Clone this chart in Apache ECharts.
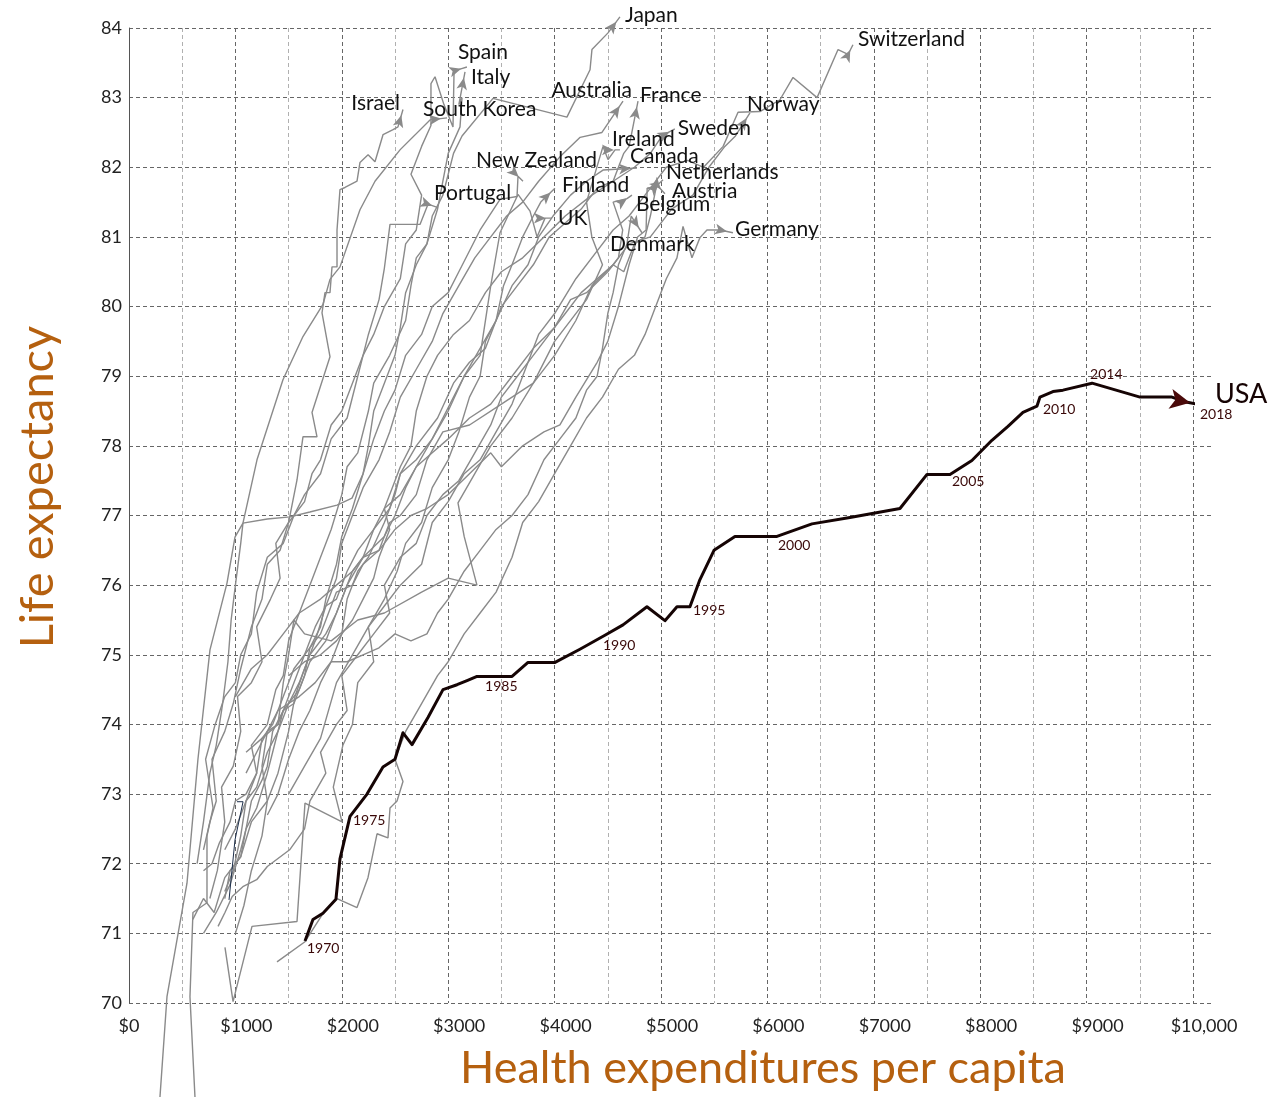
<!DOCTYPE html>
<html>
<head>
<meta charset="utf-8">
<script src="https://cdn.jsdelivr.net/npm/echarts@6/dist/echarts.min.js"></script>
<style>
  html, body { margin: 0; padding: 0; background: #fff; }
  #chart { width: 1270px; height: 1097px; }
</style>
</head>
<body>
<div id="chart"></div>
<script>
// health expenditure per capita ($) vs life expectancy (years), 1970 -> 2018
const japan = [[640,72.0],[700,72.6],[760,73.3],[820,73.7],[880,74.3],[930,74.9],[960,75.5],[1000,76.0],[1050,76.6],[1071,76.89],[1300,76.95],[1513,76.98],[1700,77.05],[1955,77.15],[2096,77.25],[2200,77.6],[2250,78.0],[2300,78.5],[2400,78.9],[2500,79.3],[2550,79.7],[2600,80.2],[2700,80.6],[2800,80.9],[2850,81.3],[2950,81.6],[3000,81.9],[3050,82.2],[3130,82.45],[3421,82.99],[4116,82.72],[4333,83.4],[4351,83.69],[4502,83.93],[4614,84.16]];
const switzerland = [[1500,73.0],[1650,73.4],[1800,73.8],[1950,74.6],[2100,75.0],[2250,75.4],[2400,75.7],[2550,76.0],[2750,76.3],[2850,76.9],[3000,77.2],[3150,77.6],[3300,77.8],[3450,78.2],[3600,78.6],[3700,79.0],[3850,79.6],[4000,79.9],[4200,80.4],[4400,80.8],[4550,81.1],[4700,81.3],[4900,81.7],[5050,82.0],[5250,82.1],[5400,82.0],[5584,82.3],[5724,82.79],[5930,82.8],[6118,82.97],[6241,83.29],[6467,83.0],[6664,83.69],[6758,83.62],[6804,83.76]];
const spain = [[700,72.2],[760,72.6],[820,72.9],[780,73.5],[900,73.9],[980,74.3],[1050,74.8],[1150,75.4],[1250,75.8],[1300,76.3],[1420,76.5],[1500,76.9],[1550,77.0],[1650,77.2],[1720,77.6],[1800,77.8],[1900,78.3],[2000,78.5],[2100,78.9],[2200,79.3],[2300,79.6],[2400,80.0],[2550,80.4],[2600,80.9],[2700,81.1],[2750,81.6],[2650,81.9],[2750,82.3],[2838,82.6],[2838,83.2],[2876,83.3],[2960,82.9],[3045,82.58],[3055,83.38],[3111,83.41],[3176,83.44]];
const italy = [[900,71.6],[980,71.9],[1050,72.4],[1100,72.9],[1200,73.3],[1150,73.7],[1300,74.0],[1380,74.5],[1450,74.7],[1500,75.2],[1600,75.6],[1700,76.0],[1800,76.4],[1900,76.8],[2000,77.3],[2050,77.7],[2150,77.9],[2250,78.5],[2300,78.9],[2450,79.3],[2600,79.8],[2650,80.3],[2700,80.7],[2800,80.9],[2900,81.4],[2950,81.8],[3000,82.2],[3111,82.58],[3130,83.0],[3100,82.9],[3158,83.37]];
const israel = [[760,71.5],[830,71.9],[900,72.6],[870,73.1],[980,73.4],[1050,73.9],[1020,74.4],[1150,74.6],[1250,74.9],[1200,75.4],[1330,75.8],[1420,76.1],[1380,76.6],[1500,76.9],[1579,77.51],[1635,78.13],[1767,78.13],[1720,78.48],[1889,79.28],[1814,79.91],[1842,80.2],[1889,80.2],[1908,80.57],[1955,80.57],[1955,81.1],[1983,81.68],[2030,81.71],[2143,81.8],[2171,82.07],[2247,82.18],[2312,82.08],[2388,82.47],[2482,82.54],[2528,82.58],[2575,82.83]];
const southKorea = [[215,67.0],[291,68.65],[357,70.09],[545,71.72],[648,73.5],[761,75.07],[921,76.03],[996,76.69],[1071,76.89],[1203,77.8],[1447,78.95],[1635,79.57],[1823,80.03],[1889,80.39],[1983,80.57],[2171,81.39],[2312,81.8],[2547,82.25],[2829,82.68],[2989,82.71]];
const australia = [[1000,71.0],[1080,71.4],[1150,71.9],[1250,72.4],[1300,72.9],[1400,73.3],[1500,73.9],[1560,74.4],[1650,74.8],[1750,75.2],[1850,75.7],[1950,76.1],[2000,76.6],[2100,77.0],[2200,77.4],[2350,77.8],[2450,78.2],[2550,78.7],[2700,79.1],[2850,79.5],[2950,79.9],[3100,80.3],[3250,80.7],[3400,81.0],[3550,81.3],[3700,81.5],[3850,81.8],[4050,82.15],[4240,82.43],[4445,82.5],[4643,82.95]];
const france = [[900,72.2],[1000,72.5],[1100,72.9],[1200,73.1],[1300,73.6],[1400,73.9],[1500,74.3],[1600,74.6],[1700,75.0],[1850,75.3],[1950,75.6],[2050,76.0],[2200,76.4],[2300,76.8],[2450,77.1],[2550,77.6],[2700,78.0],[2900,78.4],[3050,78.9],[3200,79.2],[3350,79.4],[3500,80.0],[3650,80.3],[3800,80.6],[3950,81.0],[4100,81.2],[4250,81.4],[4400,81.7],[4550,81.8],[4650,82.2],[4700,82.3],[4784,82.95]];
const norway = [[1000,74.4],[1150,74.8],[1300,75.0],[1450,75.3],[1600,75.6],[1800,75.8],[1950,76.0],[2100,76.2],[2200,76.4],[2350,76.5],[2450,76.9],[2550,77.0],[2700,77.3],[2800,77.8],[2950,78.2],[3200,78.3],[3500,78.6],[3800,78.9],[4000,79.3],[4200,79.8],[4350,80.3],[4550,80.6],[4700,80.9],[4900,81.0],[5100,81.4],[5300,81.6],[5450,82.0],[5600,82.3],[5700,82.45],[5836,82.78]];
const sweden = [[1500,74.7],[1650,74.9],[1800,75.0],[1950,75.2],[2100,75.5],[2200,75.8],[2300,76.1],[2350,76.4],[2450,76.8],[2400,77.1],[2500,77.5],[2550,77.7],[2650,78.0],[2700,78.5],[2800,79.0],[2900,79.3],[3050,79.6],[3200,79.8],[3350,80.2],[3500,80.5],[3700,80.7],[3900,81.0],[4100,81.3],[4350,81.6],[4550,81.8],[4750,82.0],[4900,82.2],[5010,82.45],[5130,82.55]];
const ireland = [[600,71.2],[700,71.5],[800,71.3],[900,71.8],[1050,72.1],[1150,72.6],[1300,72.9],[1250,73.4],[1300,73.9],[1400,74.0],[1450,74.6],[1500,75.0],[1550,75.5],[1650,75.3],[1900,75.2],[2150,75.5],[2400,75.6],[2750,75.9],[3000,76.1],[3270,76.0],[3150,76.7],[3092,77.18],[3250,77.6],[3400,78.0],[3600,78.4],[3800,78.9],[4000,79.5],[4300,80.1],[4450,80.6],[4350,81.0],[4300,81.5],[4455,82.3],[4502,82.11],[4568,82.25],[4614,82.25]];
const canada = [[1300,72.7],[1400,73.0],[1500,73.5],[1600,73.9],[1700,74.2],[1800,74.6],[1900,74.9],[2000,75.3],[2050,75.8],[2150,76.2],[2250,76.4],[2400,76.9],[2500,77.3],[2550,77.6],[2700,77.8],[2850,78.1],[2950,78.4],[3050,78.7],[3150,79.0],[3300,79.4],[3450,79.8],[3600,80.3],[3750,80.6],[3850,81.0],[3985,81.3],[4150,81.6],[4300,81.8],[4455,81.96],[4774,81.99]];
const newZealand = [[900,71.5],[950,71.9],[1050,72.1],[1100,72.5],[1150,72.9],[1250,73.2],[1300,73.4],[1350,73.9],[1450,74.2],[1550,74.3],[1650,74.7],[1700,75.1],[1800,75.4],[1850,75.8],[1950,76.3],[2000,76.7],[2100,77.1],[2200,77.6],[2300,78.1],[2400,78.5],[2500,78.8],[2600,79.3],[2750,79.6],[2850,80.0],[3000,80.2],[3100,80.5],[3300,81.1],[3487,81.54],[3647,81.58],[3656,81.87],[3703,81.8]];
const netherlands = [[1100,73.6],[1250,73.8],[1400,74.0],[1550,74.6],[1650,75.0],[1800,75.3],[1950,75.9],[2100,76.0],[2200,76.3],[2350,76.5],[2500,76.8],[2650,77.0],[2800,77.1],[3000,77.3],[3200,77.6],[3400,77.9],[3500,77.7],[3700,78.0],[3900,78.2],[4050,78.3],[4200,78.7],[4400,79.2],[4500,79.5],[4600,80.0],[4700,80.6],[4780,81.0],[4860,81.1],[4870,81.7],[4950,81.72],[5019,81.82]];
const finland = [[902,70.8],[978,70.02],[1156,71.1],[1579,71.17],[1654,72.87],[2002,72.6],[1920,73.1],[2010,73.7],[2100,74.0],[2150,74.6],[2300,74.9],[2250,75.4],[2400,75.8],[2520,76.2],[2600,76.6],[2750,76.9],[2850,77.4],[3000,77.8],[3100,78.2],[3200,78.7],[3300,79.0],[3350,79.5],[3450,79.8],[3520,80.3],[3600,80.6],[3700,81.0],[3800,81.3],[3870,81.5],[4003,81.7]];
const austria = [[837,71.1],[902,71.3],[970,71.53],[1070,71.67],[1200,71.77],[1300,71.96],[1510,72.2],[1650,72.5],[1700,72.9],[1850,73.3],[1800,73.6],[1950,74.0],[2050,74.2],[2000,74.7],[2150,75.0],[2300,75.3],[2450,75.6],[2400,76.0],[2550,76.4],[2700,76.6],[2800,77.0],[2950,77.3],[3100,77.5],[3250,77.9],[3400,78.3],[3500,78.7],[3650,79.0],[3800,79.3],[3950,79.6],[4100,79.9],[4250,80.2],[4400,80.4],[4550,80.6],[4650,80.5],[4750,80.9],[4850,81.0],[4900,81.3],[4960,81.75],[5037,81.62]];
const belgium = [[700,71.0],[820,71.3],[950,71.7],[1050,72.2],[1100,72.5],[1200,72.8],[1300,73.3],[1350,73.6],[1450,74.2],[1600,74.5],[1700,74.9],[1850,75.2],[2000,75.8],[2100,76.2],[2200,76.4],[2400,76.7],[2500,77.0],[2600,77.4],[2700,77.7],[2850,77.9],[3000,78.1],[3200,78.4],[3400,78.6],[3600,79.0],[3800,79.4],[4000,79.7],[4150,80.1],[4300,80.2],[4500,80.5],[4600,80.7],[4640,81.1],[4550,81.5],[4680,81.55],[4727,81.6]];
const portugal = [[640,67.2],[620,68.65],[573,70.09],[601,71.3],[733,71.44],[733,72.4],[790,72.8],[720,73.5],[810,74.0],[900,74.4],[1000,74.6],[1050,75.0],[1150,75.3],[1200,75.9],[1300,76.4],[1450,76.6],[1550,77.0],[1650,77.3],[1800,77.6],[1900,78.1],[2050,78.4],[2150,79.0],[2250,79.6],[2350,80.1],[2400,80.55],[2453,81.18],[2735,81.18],[2810,81.47],[2904,81.42]];
const uk = [[700,71.9],[780,72.0],[850,72.3],[950,72.6],[1000,72.9],[1100,73.0],[1200,73.3],[1250,73.8],[1350,74.0],[1450,74.4],[1550,74.8],[1650,75.0],[1750,75.4],[1850,75.7],[1950,75.8],[2050,76.2],[2150,76.5],[2300,76.8],[2400,77.1],[2550,77.3],[2700,77.7],[2850,78.1],[3000,78.5],[3150,79.0],[3300,79.3],[3400,80.3],[3487,81.06],[3656,81.61],[3769,81.37],[3835,81.0],[3910,81.27],[3975,81.27]];
const germany = [[1391,70.59],[1654,70.88],[1830,71.3],[1955,71.5],[2143,71.37],[2246,71.8],[2331,72.43],[2434,72.37],[2453,72.8],[2519,72.9],[2575,73.18],[2500,73.5],[2600,73.9],[2750,74.3],[2900,74.7],[3000,74.9],[3150,75.3],[3300,75.6],[3450,75.9],[3600,76.4],[3700,76.9],[3850,77.2],[4000,77.6],[4150,78.0],[4300,78.4],[4450,78.7],[4600,79.1],[4750,79.3],[4850,79.6],[4950,80.0],[5050,80.4],[5150,80.7],[5207,81.15],[5291,80.7],[5366,80.99],[5432,81.1],[5554,81.1],[5676,81.06]];
const denmark = [[1100,73.3],[1200,73.6],[1300,73.9],[1400,74.2],[1500,74.3],[1600,74.4],[1750,74.6],[1900,74.9],[2050,74.9],[2200,75.0],[2350,75.1],[2500,75.3],[2650,75.2],[2800,75.3],[2900,75.6],[3000,75.8],[3150,76.2],[3300,76.5],[3450,76.8],[3600,77.0],[3750,77.3],[3900,77.8],[4050,78.1],[4200,78.4],[4300,78.8],[4400,79.0],[4450,79.4],[4500,79.9],[4550,80.2],[4600,80.6],[4680,80.9],[4720,81.3],[4821,81.06]];
const stray = [[940,71.48],[996,72.34],[1072,72.89],[1015,72.89]];

// USA, one point per year from 1970
const usa = [[1654,70.89],[1729,71.2],[1823,71.29],[1945,71.49],[1983,72.07],[2077,72.68],[2237,73.0],[2387,73.39],[2500,73.5],[2575,73.88],[2660,73.71],[2810,74.1],[2951,74.5],[3083,74.57],[3177,74.63],[3271,74.69],[3600,74.69],[3750,74.89],[4004,74.89],[4238,75.08],[4473,75.28],[4643,75.43],[4868,75.69],[5037,75.49],[5150,75.69],[5272,75.69],[5366,76.08],[5498,76.5],[5695,76.7],[5893,76.7],[6090,76.7],[6419,76.88],[6776,76.97],[7246,77.1],[7500,77.59],[7716,77.59],[7922,77.79],[8110,78.08],[8261,78.28],[8402,78.48],[8533,78.57],[8562,78.7],[8684,78.78],[8778,78.8],[9051,78.9],[9502,78.7],[9802,78.7],[9934,78.63],[10065,78.59]];
const firstYear = 1970;
const labelledYears = [1970, 1975, 1985, 1990, 1995, 2000, 2005, 2010, 2014, 2018];

const countries = [
  {name: 'Japan', data: japan}, {name: 'Switzerland', data: switzerland},
  {name: 'Spain', data: spain}, {name: 'Italy', data: italy},
  {name: 'Israel', data: israel}, {name: 'South Korea', data: southKorea},
  {name: 'Australia', data: australia}, {name: 'France', data: france},
  {name: 'Norway', data: norway}, {name: 'Sweden', data: sweden},
  {name: 'Ireland', data: ireland}, {name: 'Canada', data: canada},
  {name: 'New Zealand', data: newZealand}, {name: 'Netherlands', data: netherlands},
  {name: 'Finland', data: finland}, {name: 'Austria', data: austria},
  {name: 'Belgium', data: belgium}, {name: 'Portugal', data: portugal},
  {name: 'UK', data: uk}, {name: 'Germany', data: germany},
  {name: 'Denmark', data: denmark}
];

// where each name sits relative to its arrow tip: [dx, dy, align]
const namePlace = {
  'Japan': [5, -2, 'left'], 'Switzerland': [5, -5, 'left'], 'Spain': [-9, -15, 'left'],
  'Italy': [6, 5, 'left'], 'Israel': [-3, -6, 'right'], 'South Korea': [-24, -9, 'left'],
  'Australia': [9, -11, 'right'], 'France': [2, -6, 'left'], 'Norway': [-3, -9, 'left'],
  'Sweden': [3, -1, 'left'], 'Ireland': [-8, -11, 'left'], 'Canada': [-7, -12, 'left'],
  'New Zealand': [-47, -21, 'left'], 'Netherlands': [3, -8, 'left'], 'Finland': [7, -3, 'left'],
  'Austria': [7, -3, 'left'], 'Belgium': [4, 9, 'left'], 'Portugal': [-4, -14, 'left'],
  'UK': [6, 0, 'left'], 'Germany': [2, -4, 'left'], 'Denmark': [-32, 11, 'left']
};
const yearPlace = {
  1970: [2, 7], 1975: [3, 4], 1985: [8, 10], 1990: [-2, 10], 1995: [3, 4],
  2000: [1, 9], 2005: [2, 7], 2010: [6, 3], 2014: [-2, -9], 2018: [0, 10]
};

const FONT = 'Lato, "Open Sans", sans-serif';
const GREY = '#8a8a8a';
const dash = [4, 3];

const chart = echarts.init(document.getElementById('chart'));

const lineSeries = countries.map(c => ({
  type: 'line', name: c.name, data: c.data, symbol: 'none', clip: false, silent: true,
  lineStyle: {color: GREY, width: 1.4}, z: 3
}));
lineSeries.push({
  type: 'line', name: 'stray', data: stray, symbol: 'none', clip: false, silent: true,
  lineStyle: {color: '#1c2e4a', width: 1}, z: 3
});
lineSeries.push({
  type: 'line', name: 'USA', data: usa, symbol: 'none', clip: false, silent: true,
  lineStyle: {color: '#150404', width: 3, join: 'round'}, z: 5
});

const option = {
  animation: false,
  backgroundColor: '#fff',
  grid: [
    {left: 129, top: 28, width: 1064, height: 975},
    {left: 129, top: 28, width: 1084, height: 975}
  ],
  xAxis: [
    {
      gridIndex: 0, type: 'value', min: 0, max: 10000, interval: 1000,
      axisLine: {show: false}, axisTick: {show: false},
      axisLabel: {
        margin: 14, color: '#222', fontSize: 18, fontFamily: FONT,
        formatter: v => v === 0 ? '{z|$0}' : '{n|$' + (v === 10000 ? '10,000' : v) + '}',
        rich: {
          z: {fontSize: 18, fontFamily: FONT, color: '#222'},
          n: {fontSize: 18, fontFamily: FONT, color: '#222', padding: [0, 0, 0, 22]}
        }
      },
      splitLine: {show: true, lineStyle: {color: '#666', type: dash, width: 1}},
      minorTick: {show: false, splitNumber: 2},
      minorSplitLine: {show: true, lineStyle: {color: '#b0b0b0', type: dash, width: 1}}
    },
    {gridIndex: 1, type: 'value', min: 0, max: 1, show: false}
  ],
  yAxis: [
    {gridIndex: 0, type: 'value', min: 70, max: 84, show: false},
    {
      gridIndex: 1, type: 'value', min: 70, max: 84, interval: 1,
      axisLine: {show: true, lineStyle: {color: '#555', width: 1}},
      axisTick: {show: false},
      axisLabel: {margin: 7, color: '#222', fontSize: 18, fontFamily: FONT},
      splitLine: {show: true, lineStyle: {color: '#666', type: dash, width: 1}}
    }
  ],
  graphic: [
    {
      type: 'text', x: 38, y: 487, rotation: Math.PI / 2,
      style: {text: 'Life expectancy', fill: '#b5600f', font: '47px ' + FONT, align: 'center', verticalAlign: 'middle'}
    },
    {
      type: 'text', x: 763, y: 1068,
      style: {text: 'Health expenditures per capita', fill: '#b5600f', font: '45px ' + FONT, align: 'center', verticalAlign: 'middle'}
    }
  ],
  series: lineSeries
};

chart.setOption(option);

// arrowheads: point the symbol along the last segment and put its tip on the last point
function arrowAt(pts, size) {
  const a = chart.convertToPixel({gridIndex: 0}, pts[pts.length - 2]);
  const b = chart.convertToPixel({gridIndex: 0}, pts[pts.length - 1]);
  const dx = b[0] - a[0], dy = b[1] - a[1];
  const len = Math.hypot(dx, dy) || 1;
  return {
    value: pts[pts.length - 1],
    symbolRotate: Math.atan2(-dx, -dy) * 180 / Math.PI,
    symbolOffset: [-dx / len * size[1] / 2, -dy / len * size[1] / 2]
  };
}

const arrowSize = [8, 12];
const usaArrowSize = [15, 20];
const hidden = {color: 'rgba(0,0,0,0)', opacity: 1};

const extra = [
  {
    type: 'scatter', name: 'arrows', symbol: 'arrow', symbolSize: arrowSize, silent: true, clip: false,
    itemStyle: {color: GREY, opacity: 1}, z: 4,
    data: countries.map(c => arrowAt(c.data, arrowSize))
  },
  {
    type: 'scatter', name: 'usaArrow', symbol: 'arrow', symbolSize: usaArrowSize, silent: true, clip: false,
    itemStyle: {color: '#4a0a0a', opacity: 1}, z: 6,
    data: [arrowAt(usa, usaArrowSize)]
  },
  {
    type: 'scatter', name: 'names', symbolSize: 1, silent: true, clip: false,
    itemStyle: hidden, z: 7,
    data: countries.map(c => {
      const p = namePlace[c.name];
      return {
        value: c.data[c.data.length - 1],
        label: {
          show: true, formatter: c.name, position: [p[0] + 0.5, p[1] + 0.5],
          align: p[2], verticalAlign: 'middle',
          color: '#111', fontSize: 21, fontFamily: FONT
        }
      };
    }).concat([{
      value: usa[usa.length - 1],
      label: {
        show: true, formatter: 'USA', position: [15.5, -9.5], align: 'left', verticalAlign: 'middle',
        color: '#160303', fontSize: 27, fontFamily: FONT
      }
    }])
  },
  {
    type: 'scatter', name: 'years', symbolSize: 1, silent: true, clip: false,
    itemStyle: hidden, z: 7,
    data: labelledYears.map(y => ({
      value: usa[y - firstYear],
      label: {
        show: true, formatter: String(y), position: [yearPlace[y][0] + 0.5, yearPlace[y][1] + 0.5],
        align: 'left', verticalAlign: 'middle',
        color: '#3a0808', fontSize: 14, fontFamily: FONT
      }
    }))
  }
];

chart.setOption({series: lineSeries.concat(extra)});
</script>
</body>
</html>
